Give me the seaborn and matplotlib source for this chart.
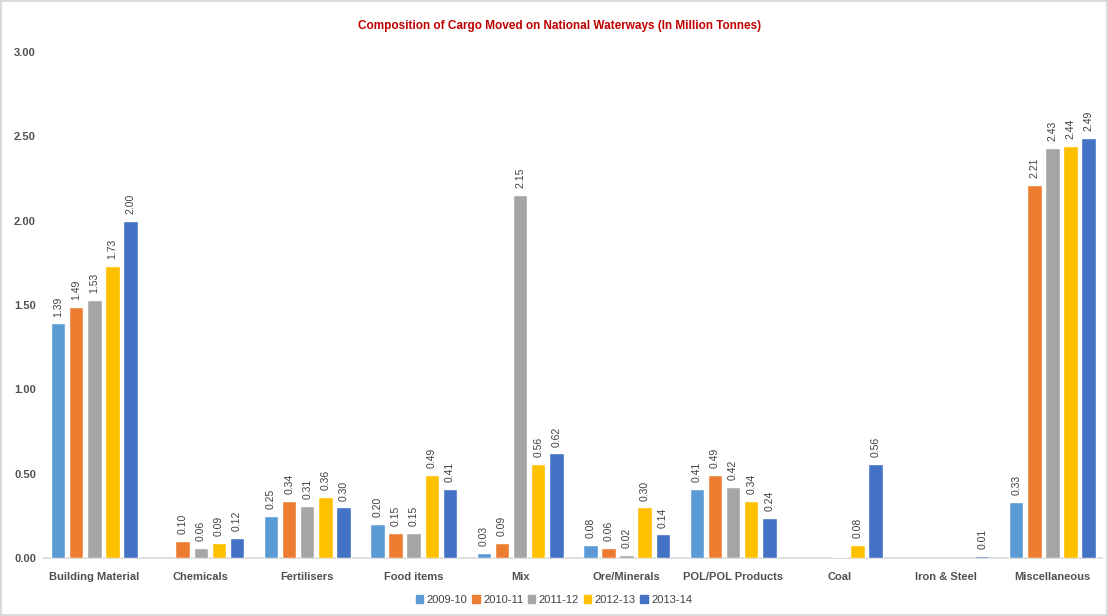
import numpy as np
import pandas as pd
import matplotlib
matplotlib.use("Agg")
import matplotlib.pyplot as plt
import seaborn as sns
from matplotlib.ticker import FormatStrFormatter

categories = ["Building Material", "Chemicals", "Fertilisers", "Food items", "Mix",
              "Ore/Minerals", "POL/POL Products", "Coal", "Iron & Steel", "Miscellaneous"]
years = ["2009-10", "2010-11", "2011-12", "2012-13", "2013-14"]

y2009_10 = [1.39, np.nan, 0.25, 0.20, 0.03, 0.08, 0.41, np.nan, np.nan, 0.33]
y2010_11 = [1.49, 0.10, 0.34, 0.15, 0.09, 0.06, 0.49, np.nan, np.nan, 2.21]
y2011_12 = [1.53, 0.06, 0.31, 0.15, 2.15, 0.02, 0.42, 0.004, np.nan, 2.43]
y2012_13 = [1.73, 0.09, 0.36, 0.49, 0.56, 0.30, 0.34, 0.08, np.nan, 2.44]
y2013_14 = [2.00, 0.12, 0.30, 0.41, 0.62, 0.14, 0.24, 0.56, 0.012, 2.49]

colors = ["#5B9BD5", "#ED7D31", "#A5A5A5", "#FFC000", "#4472C4"]

series = [y2009_10, y2010_11, y2011_12, y2012_13, y2013_14]
rows = []
for yr, vals in zip(years, series):
    for c, v in zip(categories, vals):
        rows.append({"Category": c, "Year": yr, "Value": v})
df = pd.DataFrame(rows).dropna()

sns.set_theme(style="white")
plt.rcParams["font.family"] = ["Liberation Sans", "DejaVu Sans"]

fig = plt.figure(figsize=(11.08, 6.16), dpi=100)
fig.patch.set_facecolor("white")
fig.patch.set_edgecolor("#D9D9D9")
fig.patch.set_linewidth(1.5)
ax = fig.add_axes([0.040, 0.094, 0.955, 0.822])

sns.barplot(data=df, x="Category", y="Value", hue="Year", order=categories,
            hue_order=years, palette=colors, width=0.85, gap=0.2,
            errorbar=None, ax=ax, saturation=1)

for cont in ax.containers:
    labels = [f"{h:.2f}" if h >= 0.005 else "" for h in cont.datavalues]
    ax.bar_label(cont, labels=labels, rotation=90, padding=5, fontsize=7.5,
                 color="#404040")

ax.set_ylim(0, 3.0)
ax.set_xlim(-0.47, 9.47)
ax.set_yticks(np.arange(0, 3.01, 0.5))
ax.yaxis.set_major_formatter(FormatStrFormatter("%.2f"))
ax.set_xlabel("")
ax.set_ylabel("")
for s in ["top", "right", "left"]:
    ax.spines[s].set_visible(False)
ax.spines["bottom"].set_color("#D9D9D9")
ax.spines["bottom"].set_zorder(0.5)
ax.tick_params(axis="both", length=0, labelsize=8, colors="#505050")
ax.tick_params(axis="x", pad=10)
ax.tick_params(axis="y", pad=6)
for lbl in ax.get_xticklabels() + ax.get_yticklabels():
    lbl.set_fontweight("bold")
ax.grid(False)

ax.legend_.remove()
handles = [plt.Rectangle((0, 0), 1, 1, color=c) for c in colors]
fig.legend(handles, years, loc="center", bbox_to_anchor=(0.5, 0.026), ncol=5,
           frameon=False, fontsize=8, handlelength=0.7, handleheight=0.7,
           handletextpad=0.3, columnspacing=0.4, labelcolor="#404040")

fig.text(0.505, 0.958, "Composition of Cargo Moved on National Waterways (In Million Tonnes)",
         ha="center", va="center", color="#C00000", fontsize=8.5, fontweight="bold")

fig.savefig("out.png", dpi=100)
